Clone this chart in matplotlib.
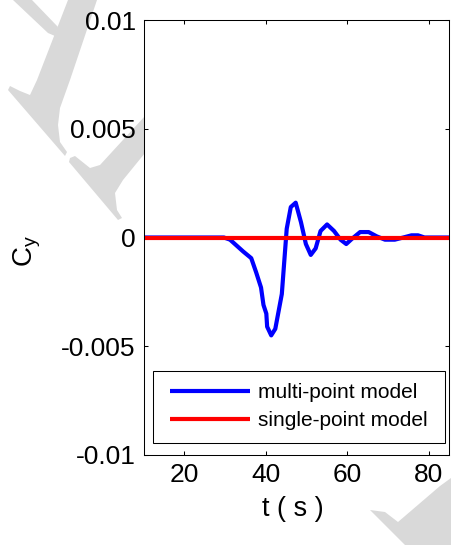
import matplotlib
matplotlib.use("Agg")
import matplotlib.pyplot as plt
from matplotlib.patches import Polygon
import numpy as np

plt.rcParams['font.family'] = ['Liberation Sans', 'DejaVu Sans']
plt.rcParams['mathtext.fontset'] = 'custom'
plt.rcParams['mathtext.rm'] = 'Liberation Sans'
plt.rcParams['mathtext.it'] = 'Liberation Sans'
plt.rcParams['axes.unicode_minus'] = False

# data
t_multi = [10, 29.8, 31.3, 32.9, 34.5, 36.5, 37.7, 38.9, 39.5, 40.2, 40.4, 41.4, 42.4,
           44.0, 44.6, 45.2, 46.2, 47.4, 48.7, 49.9, 51.1, 52.3, 53.5, 55.1, 56.8,
           58.4, 59.8, 61.2, 63.2, 65.3, 67.3, 69.3, 71.7, 73.8, 75.8, 77.4, 79.0, 85]
cy_multi = [0, 0, -0.0001, -0.00037, -0.00064, -0.00095, -0.0016, -0.0023, -0.0031,
            -0.0035, -0.0041, -0.0045, -0.0042, -0.0026, -0.0011, 0.0004, 0.0014,
            0.0016, 0.0007, -0.0003, -0.0008, -0.0005, 0.0003, 0.0006, 0.0003,
            -0.0001, -0.0003, -0.00006, 0.00025, 0.00025, 0.00005, -0.0001, -0.0001,
            0, 0.0001, 0.0001, 0, 0]
t_single = [10, 85]
cy_single = [0, 0]

xticks = [20, 40, 60, 80]
yticks = [-0.01, -0.005, 0, 0.005, 0.01]
ytick_labels = ['-0.01', '-0.005', '0', '0.005', '0.01']

W, H = 451, 545
fig = plt.figure(figsize=(W / 100, H / 100), dpi=100)

# light grey watermark behind the axes (pixel coords, y down)
def wm(pts):
    p = Polygon([(x / W, 1 - y / H) for x, y in pts], closed=True,
                transform=fig.transFigure, facecolor='#d9d9d9', edgecolor='none', zorder=0)
    fig.patches.append(p)

wm([(13, 0), (32, 0), (58, 27), (55, 36), (48, 33)])
wm([(68, 0), (97, 0), (70, 80), (60, 108), (58, 125), (60, 142), (67, 152), (65, 156),
    (8, 90), (10, 86), (20, 91), (30, 95), (37, 80)])
wm([(70, 158), (75, 156), (90, 168), (100, 165), (145, 116), (145, 153), (123, 180),
    (115, 193), (117, 210), (122, 218), (118, 220), (69, 162)])
wm([(370, 510), (385, 512), (398, 522), (440, 486), (451, 478), (451, 545), (405, 545)])

ax = fig.add_axes([144 / W, 1 - 455 / H, 305 / W, 435 / H])
ax.set_zorder(1)

ax.plot(t_multi, cy_multi, color='#0000ff', lw=3, label='multi-point model')
ax.plot(t_single, cy_single, color='#ff0000', lw=3, label='single-point model')

ax.set_xlim(10.2, 85)
ax.set_ylim(-0.01, 0.01)
ax.set_xticks(xticks)
ax.set_yticks(yticks)
ax.set_yticklabels(ytick_labels)
ax.tick_params(direction='in', top=True, right=True, length=3, width=0.75,
               labelsize=19, pad=6)
for s in ax.spines.values():
    s.set_linewidth(0.75)

ax.set_xlabel('t ( s )', fontsize=19.5)
ax.xaxis.set_label_coords(0.487, -0.095)
ax.set_ylabel(r'$\mathregular{C_y}$', fontsize=20)
ax.yaxis.set_label_coords(-0.33, 0.47)

leg = ax.legend(loc='lower left', bbox_to_anchor=(0.0295, 0.0276, 0.957, 0.2),
                mode='expand', borderaxespad=0,
                fontsize=15, handlelength=3.8, handletextpad=0.65, fancybox=False,
                framealpha=1, edgecolor='black', borderpad=0.6, labelspacing=0.45)
leg.get_frame().set_linewidth(0.75)
# MATLAB legend puts the sample lines a bit further in from the frame
for ln in leg.get_lines():
    ln.set_solid_capstyle('butt')
    ln.set_xdata(np.asarray(ln.get_xdata()) + 3.6)

fig.savefig('out.png', dpi=100)
